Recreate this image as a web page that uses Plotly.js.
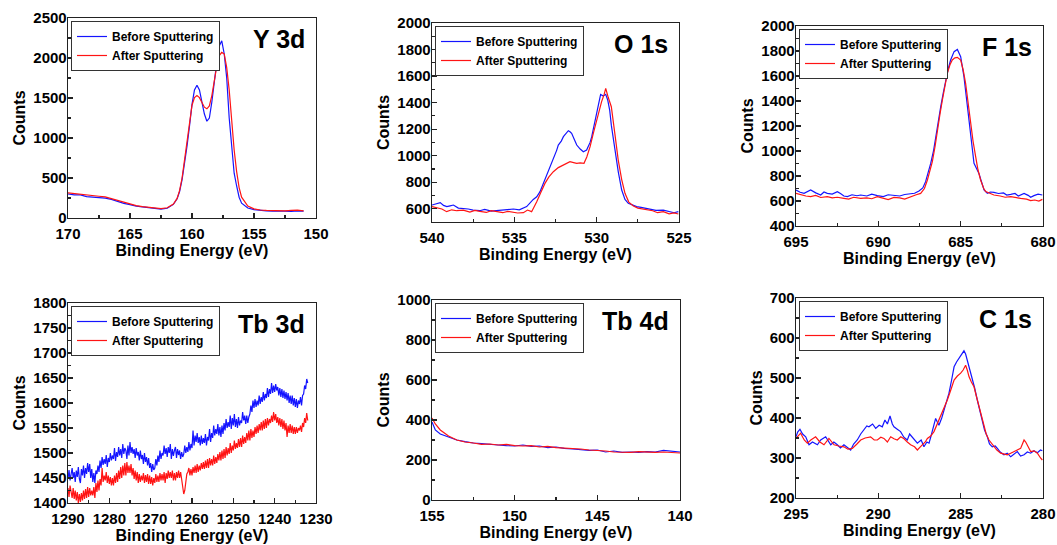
<!DOCTYPE html>
<html>
<head>
<meta charset="utf-8">
<script src="https://cdn.plot.ly/plotly-3.0.1.min.js"></script>
<style>html,body{margin:0;padding:0;background:#fff}#chart{width:1057px;height:545px}</style>
</head>
<body>
<div id="chart"></div>
<script>
// ---------------- DATA ----------------
const seriesNames = ['Before Sputtering', 'After Sputtering'];
const panelLabels = ['Y 3d', 'O 1s', 'F 1s', 'Tb 3d', 'Tb 4d', 'C 1s'];

// Y 3d
const y3dEnergy = [170,169.5,169,168.5,168,167.5,167,166.5,166,165.5,165,164.5,164,163.5,163,162.5,162,161.5,
  161.2,161,160.8,160.6,160.4,160.2,160,159.8,159.6,159.4,159.2,159,158.8,158.6,158.4,158.2,158,157.8,157.6,157.4,157.2,157,156.8,156.6,156.4,156.2,156,
  155.5,155,154.5,154,153.5,153,152.5,152,151.5,151];
const y3dBefore = [300,288,290,268,262,258,248,232,205,182,168,148,140,128,118,112,122,170,
  240,330,480,680,900,1150,1420,1600,1660,1600,1450,1300,1210,1250,1450,1720,1950,2150,2215,2050,1750,1250,850,560,400,260,185,
  125,105,95,90,85,88,85,82,90,85];
const y3dAfter = [315,305,300,288,278,272,265,242,215,192,172,155,142,135,125,118,128,175,
  245,345,500,720,960,1200,1410,1505,1530,1505,1440,1385,1365,1400,1530,1730,1900,2030,2070,2050,1880,1600,1200,850,580,380,260,
  150,115,100,95,92,92,90,95,98,90];

// O 1s
const o1sBeforeEnergy = [540,539.7,539.5,539.3,539.1,538.9,538.7,538.4,538.1,537.8,
  537.5,537.1,536.8,536.4,536.1,535.7,535.4,535.06,534.7,534.25,
  533.85,533.64,533.44,533.24,533.04,532.83,532.63,532.43,532.33,532.15,
  532.02,531.85,531.72,531.62,531.52,531.35,531.21,531.0,530.81,530.61,
  530.4,530.3,530.15,530.0,529.88,529.76,529.6,529.45,529.33,529.21,
  529.11,528.98,528.89,528.69,528.48,528.28,528.08,527.77,527.57,527.3,
  526.96,526.7,526.4,525.95,525.6,525.3,525.04];
const o1sBefore = [628,640,646,625,616,622,628,605,603,598,
  590,585,595,582,585,590,595,598,592,616,
  670,690,729,790,854,910,967,1040,1080,1110,
  1143,1170,1188,1180,1168,1120,1080,1050,1030,1043,
  1100,1143,1230,1319,1400,1462,1450,1462,1420,1344,
  1230,1120,1043,880,741,670,641,625,616,610,
  600,595,588,590,580,570,578];
const o1sAfterEnergy = [540,539.7,539.4,539.11,538.8,538.5,538.1,537.7,537.4,537.09,
  536.7,536.4,536.07,535.7,535.4,535.06,534.8,534.45,534.2,533.95,
  533.8,533.64,533.4,533.14,532.9,532.63,532.33,532.02,531.8,531.62,
  531.4,531.21,531.0,530.77,530.6,530.4,530.2,530.0,529.85,529.7,
  529.55,529.45,529.3,529.11,528.9,528.69,528.48,528.28,528.05,527.77,
  527.5,527.2,526.96,526.6,526.3,525.95,525.6,525.3,525.04];
const o1sAfter = [616,605,598,578,592,585,590,575,588,580,
  572,585,578,570,580,575,568,570,590,578,
  610,653,720,791,840,879,910,930,945,955,
  948,942,945,942,990,1068,1170,1269,1340,1407,
  1460,1507,1440,1369,1170,967,820,716,650,621,
  605,598,590,585,570,578,562,568,560];

// F 1s
const f1sBeforeEnergy = [695,694.75,694.51,694.3,694.11,693.8,693.5,693.3,693.1,692.8,
  692.49,692.3,692.09,691.88,691.6,691.3,691.07,690.7,690.4,690.06,
  689.7,689.4,689.05,688.7,688.4,688.04,687.8,687.53,687.3,687.13,
  686.95,686.82,686.65,686.52,686.35,686.21,686.05,685.91,685.75,685.61,
  685.4,685.2,685.0,684.8,684.6,684.39,684.19,684.0,683.89,683.75,
  683.58,683.38,683.2,682.98,682.7,682.4,682.2,681.96,681.7,681.5,
  681.15,680.9,680.75,680.55,680.3,680.04];
const f1sBefore = [688,670,661,675,688,665,648,672,661,655,
  675,660,640,635,650,642,648,640,655,643,
  635,650,648,640,652,656,662,680,705,755,
  830,901,1000,1115,1240,1355,1470,1568,1660,1728,
  1795,1813,1755,1595,1355,1088,901,850,821,760,
  688,661,672,669,660,665,648,653,660,640,
  661,645,630,643,655,648];
const f1sAfterEnergy = [695,694.7,694.4,694.11,693.8,693.5,693.1,692.8,692.49,692.09,
  691.8,691.5,691.07,690.7,690.4,690.06,689.7,689.4,689.05,688.7,
  688.4,688.04,687.7,687.43,687.2,687.02,686.85,686.72,686.55,686.42,
  686.25,686.11,685.95,685.81,685.65,685.51,685.35,685.2,685.0,684.85,
  684.7,684.55,684.39,684.25,684.09,683.95,683.79,683.6,683.48,683.2,
  682.98,682.6,682.3,681.96,681.6,681.36,681.0,680.75,680.5,680.25,680.04];
const f1sAfter = [661,650,640,635,645,628,635,625,630,621,
  615,630,621,625,618,635,622,612,629,625,
  615,635,650,661,700,768,850,915,1040,1168,
  1300,1408,1520,1621,1690,1728,1745,1749,1728,1650,
  1541,1380,1221,1080,955,850,768,700,675,660,
  648,640,630,635,625,621,615,603,608,600,613];

// Tb 3d (0.25 eV steps from 1290 eV down to 1232 eV)
const tb3dStart = 1290, tb3dStep = 0.25;
const tb3dBefore = [
  1448,1466,1445,1460, 1470,1450,1462,1442, 1465,1452,1472,1448, 1440,1468,1455,1475,
  1450,1470,1458,1480, 1462,1478,1450,1468, 1442,1460,1440,1465, 1458,1475,1462,1485,
  1470,1492,1476,1488, 1478,1496,1472,1490, 1482,1500,1485,1495, 1488,1510,1484,1502,
  1492,1512,1495,1508, 1490,1518,1498,1510, 1505,1488,1515,1495, 1522,1500,1512,1498,
  1508,1490,1510,1495, 1502,1485,1505,1488, 1496,1478,1500,1482, 1492,1475,1490,1470,
  1480,1462,1478,1466, 1470,1488,1475,1495, 1482,1505,1488,1500, 1495,1515,1498,1510,
  1492,1512,1500,1518, 1488,1508,1494,1505, 1512,1490,1508,1496, 1505,1488,1502,1492,
  1498,1515,1500,1512, 1502,1522,1505,1518, 1510,1545,1515,1535, 1522,1540,1520,1532,
  1515,1535,1518,1530, 1520,1538,1515,1532, 1525,1548,1522,1540, 1530,1555,1535,1548,
  1538,1558,1535,1552, 1532,1555,1538,1560, 1545,1568,1550,1562, 1552,1575,1548,1570,
  1555,1578,1552,1568, 1550,1572,1555,1565, 1560,1582,1565,1575, 1558,1575,1560,1572,
  1578,1595,1582,1605, 1590,1608,1592,1605, 1595,1615,1598,1612, 1602,1622,1605,1618,
  1610,1630,1612,1628, 1618,1640,1620,1635, 1622,1638,1625,1632, 1615,1630,1612,1628,
  1610,1625,1608,1622, 1605,1620,1600,1615, 1598,1615,1595,1610, 1592,1608,1590,1605,
  1598,1612,1595,1615, 1618,1635,1628,1648, 1640];
const tb3dAfter = [
  1430,1412,1435,1418, 1410,1430,1408,1425, 1405,1422,1400,1418, 1402,1420,1405,1425,
  1408,1428,1410,1432, 1412,1430,1415,1425, 1415,1432,1410,1440, 1422,1445,1425,1448,
  1435,1470,1442,1455, 1445,1462,1440,1455, 1438,1452,1435,1450, 1435,1455,1440,1460,
  1442,1465,1448,1472, 1450,1475,1455,1480, 1455,1482,1460,1475, 1460,1478,1455,1470,
  1448,1465,1445,1462, 1440,1458,1442,1455, 1445,1460,1440,1456, 1442,1458,1438,1455,
  1438,1452,1435,1450, 1440,1458,1442,1455, 1442,1460,1445,1458, 1445,1462,1440,1460,
  1448,1465,1450,1462, 1450,1465,1445,1460, 1445,1462,1450,1465, 1450,1462,1445,1440,
  1418,1425,1450,1458, 1462,1470,1455,1468, 1455,1472,1460,1475, 1460,1478,1462,1475,
  1465,1480,1468,1482, 1468,1485,1470,1488, 1470,1490,1475,1488, 1475,1495,1478,1492,
  1480,1498,1485,1502, 1485,1505,1488,1508, 1490,1512,1495,1510, 1498,1520,1500,1515,
  1505,1525,1508,1520, 1510,1528,1512,1530, 1512,1535,1518,1532, 1520,1540,1525,1545,
  1525,1548,1530,1545, 1532,1552,1538,1555, 1540,1558,1545,1562, 1545,1565,1548,1568,
  1550,1570,1555,1568, 1560,1575,1562,1582, 1565,1578,1560,1572, 1555,1570,1552,1568,
  1548,1565,1545,1560, 1532,1555,1540,1558, 1540,1555,1538,1552, 1538,1552,1540,1550,
  1545,1555,1542,1560, 1552,1570,1560,1580, 1565];
const tb3dEnergy = tb3dBefore.map((_, i) => tb3dStart - tb3dStep * i);

// Tb 4d
const tb4dEnergy = [155,154.8,154.5,154,153.5,153,152.5,152,151.5,151,150.5,150,149.5,149,148.5,148,147.5,147,146.5,146,145.5,145,144.5,144,143.5,143,142.5,142,141.5,141,140.5,140];
const tb4dBefore = [390,350,330,315,300,292,285,282,280,275,272,270,275,268,270,262,265,258,255,252,248,250,240,245,238,240,238,242,240,248,245,240];
const tb4dAfter = [410,380,350,320,300,290,285,278,280,275,278,272,270,272,265,268,262,260,258,255,250,248,245,240,240,238,242,240,238,240,236,235];

// C 1s
const c1sBeforeEnergy = [295,294.9,294.76,294.6,294.41,294.21,294.0,293.7,293.5,293.2,
  292.89,292.7,292.49,292.3,292.09,291.9,291.68,291.5,291.28,291.07,
  290.87,290.7,290.57,290.35,290.16,289.95,289.76,289.6,289.45,289.29,
  289.15,289.05,288.85,288.65,288.45,288.24,288.1,287.94,287.75,287.63,
  287.4,287.23,287.05,286.92,286.8,286.72,286.62,286.52,286.42,286.32,
  286.15,286.01,285.85,285.71,285.55,285.4,285.25,285.1,284.95,284.8,
  284.7,284.6,284.45,284.29,284.15,283.99,283.85,283.68,283.55,283.38,
  283.25,283.08,282.9,282.77,282.6,282.37,282.17,281.96,281.76,281.56,
  281.36,281.15,280.95,280.75,280.55,280.34,280.15,280.04];
const c1sBefore = [353,365,372,360,353,333,340,333,345,353,
  333,340,333,325,333,328,320,335,345,360,
  370,380,378,385,374,382,378,395,385,405,
  385,378,372,366,352,345,360,353,345,337,
  345,328,340,337,355,370,385,399,390,382,
  400,420,440,462,495,528,540,549,558,568,
  560,545,525,503,475,445,420,395,370,353,
  335,328,330,324,315,308,312,303,310,316,
  305,308,315,312,318,313,320,318];
const c1sAfterEnergy = [295,294.85,294.72,294.5,294.31,294.1,293.81,293.55,293.3,293.0,
  292.85,292.69,292.4,292.09,291.85,291.58,291.3,291.07,290.8,290.47,
  290.25,290.06,289.85,289.66,289.45,289.25,289.05,288.85,288.64,288.44,
  288.24,288.04,287.8,287.63,287.45,287.33,287.15,287.02,286.82,286.62,
  286.42,286.21,286.0,285.81,285.6,285.4,285.2,285.0,284.85,284.7,
  284.6,284.49,284.35,284.19,284.05,283.89,283.75,283.58,283.45,283.28,
  283.1,282.98,282.8,282.57,282.37,282.17,281.96,281.76,281.56,281.36,
  281.25,281.15,281.05,280.95,280.85,280.75,280.55,280.34,280.15,280.04];
const c1sAfter = [349,355,362,345,337,345,353,340,333,349,
  340,333,330,328,322,324,335,345,350,353,
  345,345,352,349,340,353,348,345,353,348,
  340,333,328,320,328,333,340,349,355,366,
  385,403,425,445,470,495,505,512,520,532,
  520,503,490,478,455,428,405,378,360,345,
  335,328,320,312,310,308,312,316,320,324,
  335,345,340,333,325,316,318,312,300,295];

// Axis settings per panel
const xRanges = [[170,150],[540,525],[695,680],[1290,1230],[155,140],[295,280]];
const xTickSteps = [5,5,5,10,5,5];
const yRanges = [[0,2500],[500,2000],[400,2000],[1400,1800],[0,1000],[200,700]];
const yTickSteps = [500,200,200,50,200,100];
const xTitle = 'Binding Energy (eV)';
const yTitle = 'Counts';

// ---------------- STYLE / LAYOUT ----------------
const W = 1057, H = 545;
const FONT = '"Liberation Sans", Arial, sans-serif';
const COLORS = ['#1414ff', '#ff1414'];
// plot boxes in pixels [left, top, right, bottom]
const boxes = [[68,18,316,218],[432,23,679,222],[796,26,1043,226],[68,303,316,503],[432,300,680,500],[796,298,1043,498]];

const seriesData = [
  [[y3dEnergy, y3dBefore], [y3dEnergy, y3dAfter]],
  [[o1sBeforeEnergy, o1sBefore], [o1sAfterEnergy, o1sAfter]],
  [[f1sBeforeEnergy, f1sBefore], [f1sAfterEnergy, f1sAfter]],
  [[tb3dEnergy, tb3dBefore], [tb3dEnergy, tb3dAfter]],
  [[tb4dEnergy, tb4dBefore], [tb4dEnergy, tb4dAfter]],
  [[c1sBeforeEnergy, c1sBefore], [c1sAfterEnergy, c1sAfter]]
];

const traces = [];
const layout = {
  width: W, height: H,
  margin: {l: 0, r: 0, t: 0, b: 0},
  paper_bgcolor: '#fff', plot_bgcolor: '#fff',
  font: {family: FONT, color: '#000'},
  annotations: []
};

boxes.forEach((b, i) => {
  const n = i + 1;
  const xa = 'x' + (n === 1 ? '' : n), ya = 'y' + (n === 1 ? '' : n);
  const xk = 'xaxis' + (n === 1 ? '' : n), yk = 'yaxis' + (n === 1 ? '' : n);
  const lk = 'legend' + (n === 1 ? '' : n);
  seriesData[i].forEach((s, j) => {
    traces.push({
      type: 'scatter', mode: 'lines', x: s[0], y: s[1], name: seriesNames[j],
      xaxis: xa, yaxis: ya, legend: lk,
      line: {color: COLORS[j], width: 1.2}
    });
  });
  const axisCommon = {
    showgrid: false, zeroline: false, showline: true, mirror: true,
    linecolor: '#222', linewidth: 1.3, ticks: 'inside', ticklen: 5, tickwidth: 1.2, tickcolor: '#222',
    tickfont: {family: FONT, size: 15, weight: 'bold', color: '#000'}
  };
  layout[xk] = Object.assign({}, axisCommon, {
    domain: [b[0] / W, b[2] / W], anchor: ya, range: xRanges[i], autorange: false,
    dtick: xTickSteps[i], tick0: 0, ticklabelstandoff: 2,
    minor: {ticks: 'inside', ticklen: 3, dtick: xTickSteps[i] / 2, tickcolor: '#222', showgrid: false},
    title: {text: xTitle, font: {family: FONT, size: 16, weight: 'bold'}, standoff: 3}
  });
  layout[yk] = Object.assign({}, axisCommon, {
    domain: [1 - b[3] / H, 1 - b[1] / H], anchor: xa, range: yRanges[i], autorange: false,
    dtick: yTickSteps[i], tick0: 0, ticklabelstandoff: -3,
    minor: {ticks: 'inside', ticklen: 3, dtick: yTickSteps[i] / 2, tickcolor: '#222', showgrid: false},
    title: {text: yTitle, font: {family: FONT, size: 16, weight: 'bold'}, standoff: 3}
  });
  layout[lk] = {
    x: (b[0] + 3) / W, y: 1 - (b[1] + 3) / H, xanchor: 'left', yanchor: 'top',
    xref: 'paper', yref: 'paper',
    bgcolor: '#fff', bordercolor: '#333', borderwidth: 1,
    font: {family: FONT, size: 12, weight: 'bold', color: '#000'},
    tracegroupgap: 0, itemwidth: 30
  };
  layout.annotations.push({
    xref: xa + ' domain', yref: ya + ' domain', x: 1, y: 1,
    xanchor: 'right', yanchor: 'middle', xshift: -9, yshift: -21,
    text: panelLabels[i], showarrow: false,
    font: {family: FONT, size: 25, weight: 'bold', color: '#000'}
  });
});

Plotly.newPlot('chart', traces, layout, {staticPlot: true, displayModeBar: false});
</script>
</body>
</html>
